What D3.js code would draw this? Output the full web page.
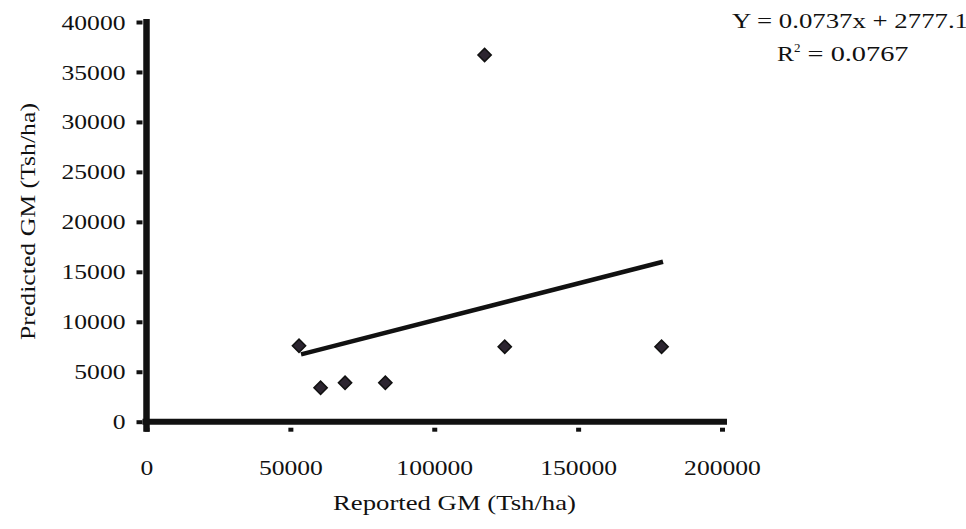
<!DOCTYPE html>
<html>
<head>
<meta charset="utf-8">
<script src="https://cdn.jsdelivr.net/npm/d3@7"></script>
<style>
  html, body { margin: 0; padding: 0; background: #fff; }
  svg { display: block; }
  text { font-family: "Liberation Serif", "Times New Roman", serif; fill: #111; }
</style>
</head>
<body>
<svg id="chart" width="966" height="529"></svg>
<script>

// data
const reportedGM = [53000, 60500, 69000, 83000, 117500, 124500, 179000];
const predictedGM = [7600, 3400, 3900, 3900, 36700, 7500, 7500];
const xTicks = [0, 50000, 100000, 150000, 200000];
const yTicks = [0, 5000, 10000, 15000, 20000, 25000, 30000, 35000, 40000];
const trendSlope = 0.0737;
const trendIntercept = 2777.1;
const equationText = "Y = 0.0737x + 2777.1";

const svg = d3.select("#chart");

const x = d3.scaleLinear().domain([0, 200000]).range([146.5, 722]);
const y = d3.scaleLinear().domain([0, 40000]).range([421.7, 22]);

// the scanned figure is stretched sideways, so stretch the glyphs too
const stretch = (sel, perChar) =>
    sel.attr("textLength", function () { return this.textContent.length * perChar; })
       .attr("lengthAdjust", "spacingAndGlyphs");

// y axis
const yAxis = d3.axisLeft(y)
    .tickValues(yTicks)
    .tickFormat(d3.format("d"))
    .tickSizeOuter(0)
    .tickSize(10)
    .tickPadding(11);

const gy = svg.append("g")
    .attr("transform", `translate(${x(0)},0)`)
    .call(yAxis);

gy.select(".domain").remove();
gy.selectAll(".tick line")
    .attr("x1", -4)
    .attr("x2", -10)
    .attr("stroke", "#111")
    .attr("stroke-width", 4);
gy.selectAll(".tick text")
    .attr("font-size", 22)
    .attr("font-family", "Liberation Serif")
    .attr("fill", "#111")
    .call(stretch, 12.8);

// x axis
const xAxis = d3.axisBottom(x)
    .tickValues(xTicks)
    .tickFormat(d3.format("d"))
    .tickSizeOuter(0)
    .tickSize(10)
    .tickPadding(28);

const gx = svg.append("g")
    .attr("transform", `translate(0,${y(0)})`)
    .call(xAxis);

gx.select(".domain").remove();
gx.selectAll(".tick line")
    .attr("y1", 6)
    .attr("y2", 10)
    .attr("stroke", "#111")
    .attr("stroke-width", 5);
gx.selectAll(".tick text")
    .attr("font-size", 22)
    .attr("font-family", "Liberation Serif")
    .attr("fill", "#111")
    .call(stretch, 12.8);

// thick axis lines
svg.append("line")
    .attr("x1", x(0)).attr("x2", x(0))
    .attr("y1", 19).attr("y2", y(0) + 10)
    .attr("stroke", "#111").attr("stroke-width", 6.5);

svg.append("line")
    .attr("x1", x(0) - 4).attr("x2", 727)
    .attr("y1", y(0)).attr("y2", y(0))
    .attr("stroke", "#111").attr("stroke-width", 6);

// trend line from the fitted equation
const xMin = d3.min(reportedGM) + 700, xMax = d3.max(reportedGM) + 500;
svg.append("line")
    .attr("x1", x(xMin)).attr("y1", y(trendSlope * xMin + trendIntercept))
    .attr("x2", x(xMax)).attr("y2", y(trendSlope * xMax + trendIntercept))
    .attr("stroke", "#111")
    .attr("stroke-width", 4.5);

// diamonds
const diamond = d3.symbol().type(d3.symbolSquare).size(88);
svg.append("g")
    .selectAll("path")
    .data(reportedGM.map((v, i) => ({ x: v, y: predictedGM[i] })))
    .join("path")
    .attr("d", diamond)
    .attr("transform", d => `translate(${x(d.x)},${y(d.y)}) rotate(45)`)
    .attr("fill", "#2c2530")
    .attr("stroke", "#111")
    .attr("stroke-width", 1.5);

// axis titles
svg.append("text")
    .attr("x", 333)
    .attr("y", 510)
    .attr("font-size", 21)
    .attr("textLength", 243)
    .attr("lengthAdjust", "spacingAndGlyphs")
    .text("Reported GM (Tsh/ha)");

svg.append("text")
    .attr("transform", "translate(35,340) rotate(-90)")
    .attr("font-size", 21)
    .attr("textLength", 237)
    .attr("lengthAdjust", "spacingAndGlyphs")
    .text("Predicted GM (Tsh/ha)");

// regression equation (runs off the right edge, as in the original)
svg.append("text")
    .attr("x", 732)
    .attr("y", 28)
    .attr("font-size", 21)
    .attr("textLength", 236)
    .attr("lengthAdjust", "spacingAndGlyphs")
    .text(equationText);

const r2 = svg.append("text")
    .attr("x", 777)
    .attr("y", 61)
    .attr("font-size", 21);
r2.append("tspan").attr("textLength", 17).attr("lengthAdjust", "spacingAndGlyphs").text("R");
r2.append("tspan").attr("dy", -9).attr("font-size", 13).text("2");
r2.append("tspan").attr("dy", 9).attr("textLength", 108)
    .attr("lengthAdjust", "spacingAndGlyphs").text(" = 0.0767");

</script>
</body>
</html>
